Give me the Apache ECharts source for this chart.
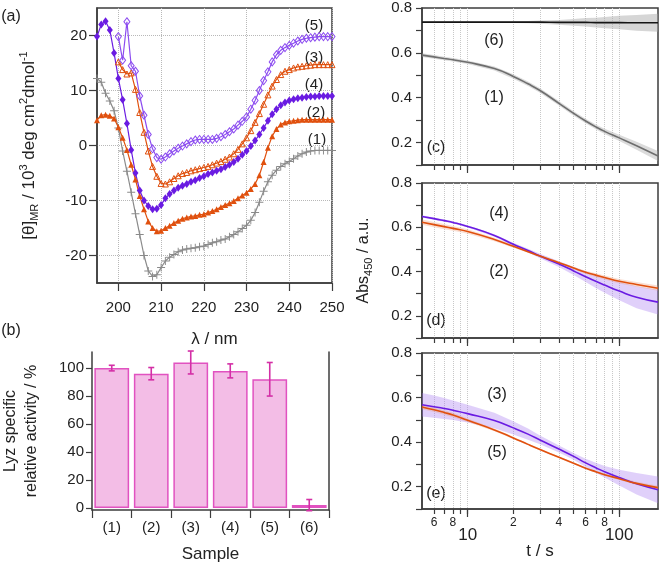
<!DOCTYPE html>
<html>
<head>
<meta charset="utf-8">
<title>CD spectra, Lyz activity and Abs450 kinetics</title>
<script src="https://cdn.jsdelivr.net/npm/echarts@6.0.0/dist/echarts.min.js"></script>
<style>
  html, body { margin: 0; padding: 0; background: #fff; }
  #chart { width: 661px; height: 567px; }
</style>
</head>
<body>
<div id="chart"></div>
<script>
// (a) CD spectra, 1 nm steps
const wavelength = [195, 196, 197, 198, 199, 200, 201, 202, 203, 204, 205, 206, 207, 208, 209,
  210, 211, 212, 213, 214, 215, 216, 217, 218, 219, 220, 221, 222, 223, 224, 225, 226, 227, 228, 229,
  230, 231, 232, 233, 234, 235, 236, 237, 238, 239, 240, 241, 242, 243, 244, 245, 246, 247, 248, 249, 250];
const cdS1 = [12.2, 11.5, 9.5, 8.1, 6.3, 3.2, -1.0, -4.7, -8.5, -12.4, -16.2, -20.0, -22.8, -23.8, -23.5,
  -22.2, -21.0, -20.3, -19.8, -19.3, -19.0, -18.8, -18.7, -18.6, -18.4, -18.3, -18.0, -17.7, -17.5, -17.2,
  -17.0, -16.6, -16.2, -15.7, -15.1, -14.5, -13.6, -12.2, -10.3, -8.3, -6.6, -5.4, -4.5, -3.8, -3.3,
  -2.9, -2.4, -1.9, -1.5, -1.2, -1.0, -0.9, -0.9, -0.9, -0.9, -0.9];
const cdS2 = [4.6, 5.5, 5.6, 5.4, 4.9, 3.3, 1.4, -0.8, -3.5, -6.2, -9.2, -11.6, -13.8, -15.0, -15.6,
  -15.5, -15.0, -14.6, -14.1, -13.7, -13.3, -13.1, -12.9, -12.8, -12.6, -12.5, -12.2, -11.9, -11.6, -11.2,
  -10.8, -10.5, -10.1, -9.6, -9.1, -8.6, -7.9, -7.0, -5.4, -3.0, -0.4, 1.7, 3.0, 3.8, 4.2,
  4.4, 4.5, 4.6, 4.7, 4.7, 4.7, 4.7, 4.7, 4.7, 4.7, 4.7];
const cdS3 = [null, null, null, null, null, 15.2, 13.8, 13.0, 13.2, 10.2, 6.0, 2.4, -1.0, -3.8, -5.6,
  -6.9, -7.0, -6.6, -6.0, -5.5, -5.1, -4.9, -4.6, -4.4, -4.2, -4.0, -3.8, -3.5, -3.2, -2.9,
  -2.5, -2.1, -1.5, -0.7, 0.3, 1.4, 2.7, 4.2, 5.8, 7.5, 9.2, 10.8, 12.0, 12.9, 13.5,
  13.8, 14.1, 14.3, 14.4, 14.5, 14.6, 14.7, 14.7, 14.7, 14.7, 14.7];
const cdS4 = [19.8, 22.0, 22.6, 21.0, 16.8, 12.2, 8.3, 4.0, -0.8, -5.0, -8.2, -10.0, -11.0, -11.6, -11.5,
  -10.8, -9.6, -8.8, -8.2, -7.7, -7.3, -7.0, -6.6, -6.3, -5.9, -5.6, -5.2, -4.9, -4.6, -4.3,
  -3.9, -3.5, -3.0, -2.4, -1.7, -1.0, -0.1, 0.9, 2.0, 3.2, 4.5, 5.7, 6.6, 7.3, 7.8,
  8.2, 8.4, 8.6, 8.7, 8.8, 8.9, 8.9, 9.0, 9.0, 9.0, 9.0];
const cdS5 = [null, null, null, null, null, 19.8, 15.5, 22.5, 14.5, 13.5, 9.0, 5.5, 2.0, -0.6, -2.2,
  -2.5, -2.1, -1.5, -1.0, -0.5, -0.1, 0.3, 0.7, 1.0, 1.1, 1.1, 1.1, 1.1, 1.3, 1.6,
  2.0, 2.5, 3.0, 3.7, 4.4, 5.2, 6.6, 8.2, 10.0, 11.8, 13.4, 15.2, 16.5, 17.3, 17.8,
  18.2, 18.6, 19.0, 19.3, 19.5, 19.6, 19.7, 19.8, 19.8, 19.8, 19.8];
const cdTicksX = [200, 210, 220, 230, 240, 250];
const cdTicksY = [-20, -10, 0, 10, 20];

// (b) Lyz specific relative activity
const samples = ['(1)', '(2)', '(3)', '(4)', '(5)', '(6)'];
const activity = [100, 96, 104, 98, 92, 2];
const activityErr = [2, 4.4, 8.2, 5, 12, 4];
const activityTicks = [0, 20, 40, 60, 80, 100];

// (c)-(e) Abs450 vs time (mean and half-width of band)
const tSec = [5, 6, 7, 8, 10, 15, 20, 25, 30, 40, 50, 60, 70, 80, 100, 130, 180];
const absS1 = [0.590, 0.582, 0.575, 0.569, 0.558, 0.530, 0.495, 0.462, 0.432, 0.375, 0.330, 0.296, 0.270, 0.250, 0.221, 0.186, 0.140];
const absS1Err = [0.008, 0.008, 0.008, 0.008, 0.008, 0.009, 0.01, 0.01, 0.01, 0.01, 0.01, 0.01, 0.011, 0.012, 0.014, 0.018, 0.022];
const absS6 = [0.737, 0.737, 0.737, 0.737, 0.737, 0.737, 0.737, 0.737, 0.737, 0.736, 0.736, 0.736, 0.735, 0.735, 0.735, 0.734, 0.734];
const absS6Err = [0.004, 0.004, 0.004, 0.004, 0.004, 0.004, 0.004, 0.005, 0.007, 0.011, 0.015, 0.019, 0.022, 0.025, 0.03, 0.035, 0.04];
const absS4 = [0.649, 0.639, 0.630, 0.622, 0.604, 0.563, 0.523, 0.495, 0.470, 0.434, 0.403, 0.377, 0.356, 0.339, 0.312, 0.284, 0.262];
const absS4Err = [0.005, 0.005, 0.005, 0.005, 0.005, 0.006, 0.007, 0.008, 0.01, 0.013, 0.018, 0.024, 0.03, 0.035, 0.042, 0.05, 0.056];
const absS2 = [0.623, 0.612, 0.603, 0.595, 0.581, 0.545, 0.514, 0.490, 0.470, 0.440, 0.416, 0.397, 0.384, 0.373, 0.356, 0.342, 0.325];
const absS2Err = [0.012, 0.012, 0.012, 0.011, 0.01, 0.008, 0.006, 0.005, 0.005, 0.005, 0.006, 0.007, 0.008, 0.009, 0.01, 0.011, 0.012];
const absS3 = [0.568, 0.559, 0.551, 0.543, 0.528, 0.497, 0.464, 0.436, 0.410, 0.369, 0.336, 0.307, 0.285, 0.267, 0.241, 0.213, 0.186];
const absS3Err = [0.053, 0.05, 0.047, 0.044, 0.04, 0.035, 0.03, 0.025, 0.02, 0.016, 0.015, 0.018, 0.022, 0.026, 0.035, 0.048, 0.06];
const absS5 = [0.558, 0.545, 0.533, 0.522, 0.498, 0.455, 0.419, 0.390, 0.367, 0.332, 0.305, 0.283, 0.267, 0.254, 0.236, 0.215, 0.196];
const absS5Err = [0.01, 0.01, 0.01, 0.01, 0.008, 0.006, 0.005, 0.004, 0.004, 0.004, 0.004, 0.004, 0.004, 0.005, 0.006, 0.007, 0.008];
const logTicks = [6, 7, 8, 9, 10, 20, 30, 40, 50, 60, 70, 80, 90, 100];
const logMajor = [10, 100];
const logMinorLabels = [6, 8, 20, 40, 60, 80];

const FONT = '"Liberation Sans", Arial, Helvetica, sans-serif';
const INK = '#222';
const AXIS = '#3c3c3c';
const PURPLE = '#6a1be2';
const PURPLE_LIGHT = '#8c4cf0';
const ORANGE = '#e0500e';
const GRAY = '#8a8a8a';

const chart = echarts.init(document.getElementById('chart'));

const axisLine = { show: true, onZero: false, lineStyle: { color: AXIS, width: 1.5 } };
const tickLine = { color: AXIS, width: 1.2 };
const tickLabel = { color: INK, fontSize: 15, fontFamily: FONT };
const dotted = { show: true, lineStyle: { color: '#b8b8b8', type: 'dotted', width: 1 } };

function pairs(xs, ys) {
  return xs.map((x, i) => [x, ys[i]]);
}

function logAxis(gridIndex, labels) {
  return {
    type: 'log', logBase: 10, gridIndex: gridIndex, min: 5, max: 180, position: 'bottom',
    axisLine: axisLine,
    axisTick: { show: true, customValues: logTicks, length: 5, lineStyle: tickLine },
    axisLabel: labels ? {
      customValues: logMinorLabels, margin: 8, color: INK, fontFamily: FONT, fontSize: 12,
      hideOverlap: false,
      formatter: v => String(Math.round(v))[0]
    } : { show: false },
    splitLine: { show: true, lineStyle: { color: '#c8c8c8', type: 'dotted', width: 1 } }
  };
}

function majorTickAxis(gridIndex, labels) {
  return {
    type: 'log', logBase: 10, gridIndex: gridIndex, min: 5, max: 180, position: 'bottom',
    axisLine: { show: false },
    axisTick: { show: true, customValues: logMajor, length: 8, lineStyle: tickLine },
    axisLabel: labels ? {
      customValues: logMajor, margin: 18, color: INK, fontFamily: FONT, fontSize: 17,
      hideOverlap: false,
      formatter: v => String(Math.round(v))
    } : { show: false },
    splitLine: { show: false }
  };
}

function absAxis(gridIndex, name) {
  const ax = {
    type: 'value', gridIndex: gridIndex, min: 0.1, max: 0.8, interval: 0.1,
    axisLine: axisLine,
    axisTick: { show: true, length: 6, lineStyle: tickLine },
    axisLabel: Object.assign({}, tickLabel, {
      margin: 10,
      formatter: v => (Math.round(v * 10) % 2 === 0 ? v.toFixed(1) : '')
    }),
    splitLine: { show: false }
  };
  if (name) {
    ax.name = '{t|Abs}{s|450}{t| / a.u.}';
    ax.nameLocation = 'middle';
    ax.nameRotate = 90;
    ax.nameGap = 48;
    ax.nameTextStyle = {
      rich: {
        t: { fontSize: 16, fontFamily: FONT, color: INK, lineHeight: 20 },
        s: { fontSize: 11, fontFamily: FONT, color: INK, verticalAlign: 'bottom', lineHeight: 20 }
      }
    };
  }
  return ax;
}

// shaded band between lower and upper bound, drawn as one polygon
function band(axisIndex, vals, errs, fill) {
  return {
    type: 'custom', xAxisIndex: axisIndex, yAxisIndex: axisIndex + 1, silent: true, z: 1,
    data: tSec.map((t, i) => [t, vals[i] - errs[i], vals[i] + errs[i]]),
    encode: { x: 0, y: [1, 2] },
    renderItem: (params, api) => {
      if (params.dataIndex !== 0) return null;
      const n = params.dataInsideLength;
      const upper = [];
      const lower = [];
      for (let i = 0; i < n; i++) {
        upper.push(api.coord([api.value(0, i), api.value(2, i)]));
        lower.push(api.coord([api.value(0, i), api.value(1, i)]));
      }
      return {
        type: 'polygon',
        shape: { points: upper.concat(lower.reverse()) },
        style: { fill: fill }
      };
    }
  };
}

function curve(axisIndex, vals, color) {
  return {
    type: 'line', xAxisIndex: axisIndex, yAxisIndex: axisIndex + 1, data: pairs(tSec, vals),
    symbol: 'none', smooth: true, lineStyle: { color: color, width: 1.6 }, z: 3
  };
}

function cdSeries(vals, color, symbol, size, open) {
  return {
    type: 'line', xAxisIndex: 0, yAxisIndex: 0, data: pairs(wavelength, vals),
    symbol: symbol, symbolSize: size, showSymbol: true,
    lineStyle: { color: color, width: 1.2 },
    itemStyle: open
      ? { color: 'rgba(255,255,255,0)', borderColor: color, borderWidth: 1 }
      : { color: color, borderWidth: 0 }
  };
}

const PLUS = 'path://M4.4,0h1.2v4.4h4.4v1.2h-4.4v4.4h-1.2v-4.4h-4.4v-1.2h4.4z';

const errorBars = samples.map((c, i) => [i, activity[i] - activityErr[i], activity[i] + activityErr[i]]);

function label(text, x, y, size) {
  return {
    type: 'text', x: x, y: y, silent: true,
    style: { text: text, fontSize: size || 16, fontFamily: FONT, fill: INK, textAlign: 'center', textVerticalAlign: 'middle' }
  };
}

const option = {
  animation: false,
  backgroundColor: '#fff',
  textStyle: { fontFamily: FONT },
  grid: [
    { left: 97, top: 8, width: 235, height: 275, show: true, borderColor: AXIS, borderWidth: 1.5, outerBoundsMode: 'none' },
    { left: 92, top: 352, width: 237, height: 158, outerBoundsMode: 'none' },
    { left: 422, top: 8, width: 236, height: 157, show: true, borderColor: AXIS, borderWidth: 1.5, outerBoundsMode: 'none' },
    { left: 422, top: 183, width: 236, height: 155, show: true, borderColor: AXIS, borderWidth: 1.5, outerBoundsMode: 'none' },
    { left: 422, top: 353, width: 236, height: 156, show: true, borderColor: AXIS, borderWidth: 1.5, outerBoundsMode: 'none' }
  ],
  xAxis: [
    {
      type: 'value', gridIndex: 0, min: 195, max: 250,
      axisLine: axisLine,
      axisTick: { show: true, customValues: cdTicksX, length: 8, lineStyle: tickLine },
      axisLabel: Object.assign({}, tickLabel, { customValues: cdTicksX, margin: 17 }),
      splitLine: dotted,
      name: 'λ / nm', nameLocation: 'middle', nameGap: 48,
      nameTextStyle: { fontSize: 17, fontFamily: FONT, color: INK }
    },
    {
      type: 'category', gridIndex: 1, data: samples,
      axisLine: axisLine,
      axisTick: { show: true, alignWithLabel: false, length: 8, lineStyle: tickLine },
      axisLabel: Object.assign({}, tickLabel, { margin: 10 }),
      name: 'Sample', nameLocation: 'middle', nameGap: 36,
      nameTextStyle: { fontSize: 17, fontFamily: FONT, color: INK }
    },
    logAxis(2, false),
    logAxis(3, false),
    Object.assign(logAxis(4, true), {
      name: 't / s', nameLocation: 'middle', nameGap: 34,
      nameTextStyle: { fontSize: 17, fontFamily: FONT, color: INK }
    }),
    majorTickAxis(2, false),
    majorTickAxis(3, false),
    majorTickAxis(4, true)
  ],
  yAxis: [
    {
      type: 'value', gridIndex: 0, min: -25, max: 25,
      axisLine: axisLine,
      axisTick: { show: true, customValues: cdTicksY, length: 8, lineStyle: tickLine },
      axisLabel: Object.assign({}, tickLabel, { customValues: cdTicksY, margin: 10 }),
      splitLine: dotted,
      name: '{t|[θ]}{s|MR}{t| / 10}{p|3}{t| deg cm}{p|2}{t|dmol}{p|-1}',
      nameLocation: 'middle', nameRotate: 90, nameGap: 57,
      nameTextStyle: {
        rich: {
          t: { fontSize: 17, fontFamily: FONT, color: INK, lineHeight: 22 },
          s: { fontSize: 11, fontFamily: FONT, color: INK, verticalAlign: 'bottom', lineHeight: 22 },
          p: { fontSize: 11, fontFamily: FONT, color: INK, verticalAlign: 'top', lineHeight: 22 }
        }
      }
    },
    {
      type: 'value', gridIndex: 1, min: -1.5, max: 111.5,
      axisLine: axisLine,
      axisTick: { show: true, customValues: activityTicks, length: 6, lineStyle: tickLine },
      axisLabel: Object.assign({}, tickLabel, { customValues: activityTicks, margin: 8 }),
      splitLine: { show: false },
      name: 'Lyz specific\nrelative activity / %',
      nameLocation: 'middle', nameRotate: 90, nameGap: 50,
      nameTextStyle: { fontSize: 16, fontFamily: FONT, color: INK, lineHeight: 21, align: 'center' }
    },
    {
      type: 'value', gridIndex: 1, min: -1.5, max: 111.5, position: 'right',
      axisLine: axisLine, axisTick: { show: false }, axisLabel: { show: false }, splitLine: { show: false }
    },
    absAxis(2, false),
    absAxis(3, true),
    absAxis(4, false)
  ],
  series: [
    cdSeries(cdS1, GRAY, PLUS, 8, false),
    cdSeries(cdS2, ORANGE, 'triangle', 6, false),
    cdSeries(cdS4, PURPLE, 'diamond', [6, 8], false),
    cdSeries(cdS3, ORANGE, 'triangle', 6, true),
    cdSeries(cdS5, PURPLE_LIGHT, 'diamond', [6, 8], true),
    {
      type: 'bar', xAxisIndex: 1, yAxisIndex: 1, data: activity, barCategoryGap: '12%',
      itemStyle: { color: '#f3bde6', borderColor: '#e152c0', borderWidth: 1.5 }
    },
    {
      type: 'custom', xAxisIndex: 1, yAxisIndex: 1, data: errorBars, encode: { x: 0, y: [1, 2] }, z: 5,
      renderItem: (params, api) => {
        const lo = api.coord([api.value(0), api.value(1)]);
        const hi = api.coord([api.value(0), api.value(2)]);
        const w = 3;
        const st = { stroke: '#d42fa6', lineWidth: 1.6 };
        return {
          type: 'group', children: [
            { type: 'line', shape: { x1: lo[0], y1: lo[1], x2: hi[0], y2: hi[1] }, style: st },
            { type: 'line', shape: { x1: lo[0] - w, y1: lo[1], x2: lo[0] + w, y2: lo[1] }, style: st },
            { type: 'line', shape: { x1: hi[0] - w, y1: hi[1], x2: hi[0] + w, y2: hi[1] }, style: st }
          ]
        };
      }
    },
    band(2, absS6, absS6Err, 'rgba(165,165,165,0.45)'),
    band(2, absS1, absS1Err, 'rgba(165,165,165,0.4)'),
    curve(2, absS6, '#151515'),
    curve(2, absS1, '#6e6e6e'),
    band(3, absS4, absS4Err, 'rgba(165,120,240,0.35)'),
    band(3, absS2, absS2Err, 'rgba(240,150,110,0.3)'),
    curve(3, absS4, PURPLE),
    curve(3, absS2, ORANGE),
    band(4, absS3, absS3Err, 'rgba(165,120,240,0.35)'),
    band(4, absS5, absS5Err, 'rgba(240,150,110,0.3)'),
    curve(4, absS3, PURPLE),
    curve(4, absS5, ORANGE)
  ],
  graphic: [
    label('(a)', 11, 17),
    label('(b)', 11, 331),
    label('(5)', 314, 26, 15),
    label('(3)', 314, 58, 15),
    label('(4)', 314, 85, 15),
    label('(2)', 316, 113, 15),
    label('(1)', 317, 140, 15),
    label('(6)', 494, 41),
    label('(1)', 494, 98),
    label('(c)', 436, 148),
    label('(4)', 499, 214),
    label('(2)', 499, 272),
    label('(d)', 436, 321),
    label('(3)', 497, 395),
    label('(5)', 497, 453),
    label('(e)', 436, 494)
  ]
};

chart.setOption(option);
</script>
</body>
</html>
